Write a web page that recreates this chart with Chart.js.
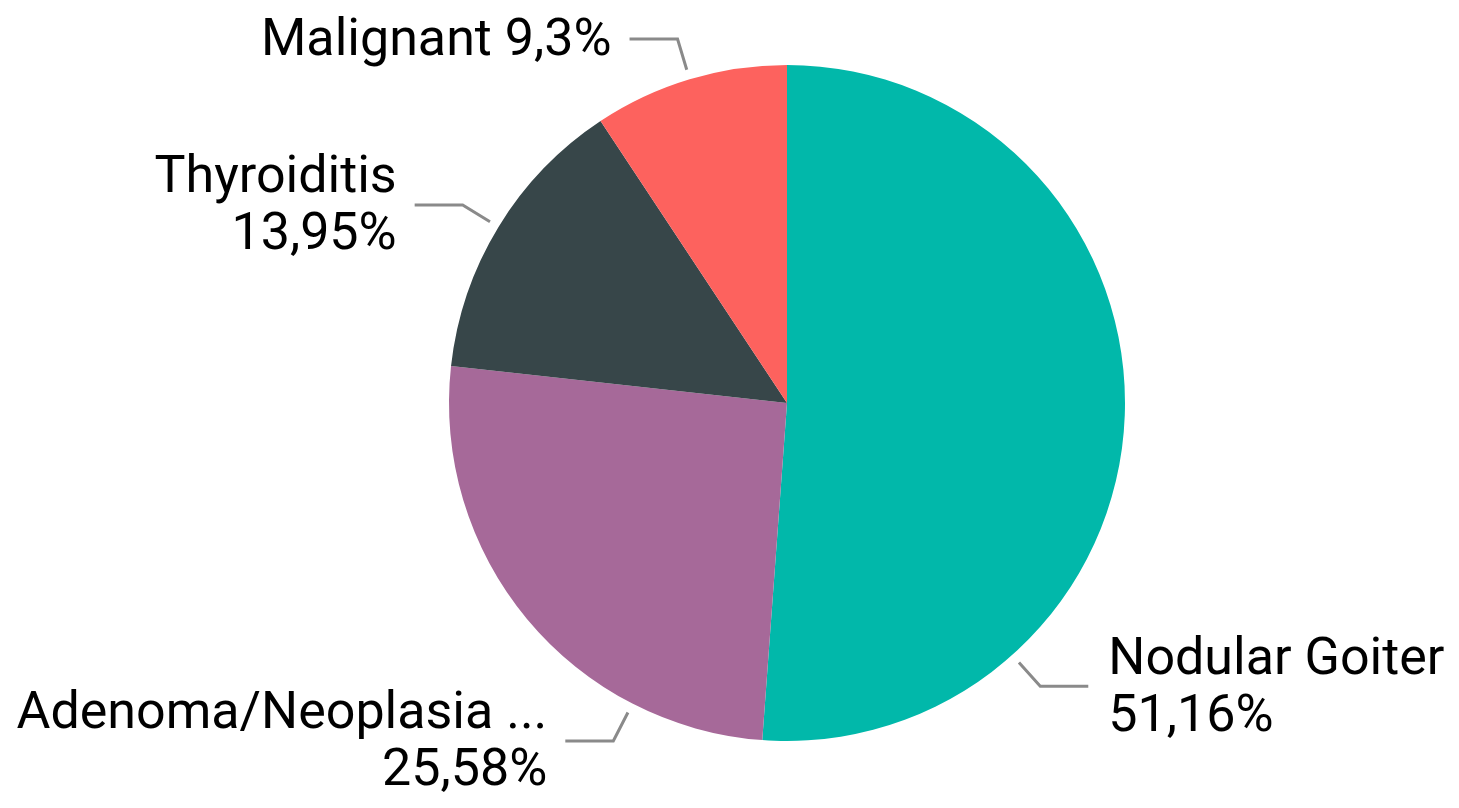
<!DOCTYPE html>
<html lang="en">
  <head>
    <meta charset="UTF-8" />
    <title>Diagnosis share</title>
    <style>
      html, body { margin: 0; padding: 0; background: #fff; }
      #wrap { width: 1459px; height: 808px; position: relative; }
    </style>
  </head>
  <body>
    <div id="wrap"><canvas id="pieChart"></canvas></div>

    <script src="https://cdn.jsdelivr.net/npm/chart.js"></script>
    <script>
      const categories = ["Nodular Goiter", "Adenoma/Neoplasia ...", "Thyroiditis", "Malignant"];
      const percentages = [51.16, 25.58, 13.95, 9.3];
      const sliceColors = ["#01B8AA", "#A66999", "#374649", "#FD625E"];

      // Power BI nudges some leader lines off the slice middle; degrees clockwise from 12 o'clock
      const leaderAngles = [138.2, 207.2, null, null];

      const FONT = "52px Roboto";
      const LINE_H = 57;

      const outsideLabels = {
        id: "outsideLabels",
        afterDatasetsDraw(chart) {
          const ctx = chart.ctx;
          const meta = chart.getDatasetMeta(0);
          ctx.save();
          ctx.font = FONT;
          ctx.fillStyle = "#000";
          ctx.strokeStyle = "#8a8a8a";
          ctx.lineWidth = 3;
          ctx.textBaseline = "middle";

          meta.data.forEach((arc, i) => {
            const p = arc.getProps(["x", "y", "startAngle", "endAngle", "outerRadius"], true);
            let a = (p.startAngle + p.endAngle) / 2;
            if (leaderAngles[i] != null) a = (leaderAngles[i] * Math.PI) / 180 - Math.PI / 2;
            const cos = Math.cos(a), sin = Math.sin(a);
            const r1 = p.outerRadius + 10, r2 = p.outerRadius + 42;
            const x1 = p.x + cos * r1, y1 = p.y + sin * r1;
            const x2 = p.x + cos * r2, y2 = p.y + sin * r2;
            const right = cos >= 0;
            const x3 = right ? x2 + 48 : x2 - 48;

            ctx.beginPath();
            ctx.moveTo(x1, y1);
            ctx.lineTo(x2, y2);
            ctx.lineTo(x3, y2);
            ctx.stroke();

            const tx = right ? x3 + 20 : x3 - 18;
            const room = right ? chart.width - tx : tx;
            const valText = String(percentages[i]).replace(".", ",") + "%";
            const oneLine = categories[i] + " " + valText;
            let lines = [categories[i], valText];
            if (ctx.measureText(oneLine).width <= room) lines = [oneLine];

            ctx.textAlign = right ? "left" : "right";
            const top = y2 + 3 - ((lines.length - 1) * LINE_H) / 2;
            lines.forEach((t, k) => ctx.fillText(t, tx, top + k * LINE_H));
          });
          ctx.restore();
        },
      };

      const pieCtx = document.getElementById("pieChart").getContext("2d");
      new Chart(pieCtx, {
        type: "pie",
        data: {
          labels: categories,
          datasets: [
            {
              data: percentages,
              backgroundColor: sliceColors,
              borderWidth: 0,
            },
          ],
        },
        options: {
          responsive: true,
          maintainAspectRatio: false,
          animation: false,
          layout: {
            padding: { top: 65, bottom: 67, left: 449, right: 334 },
          },
          plugins: {
            legend: { display: false },
            tooltip: { enabled: false },
          },
        },
        plugins: [outsideLabels],
      });
    </script>
  </body>
</html>
